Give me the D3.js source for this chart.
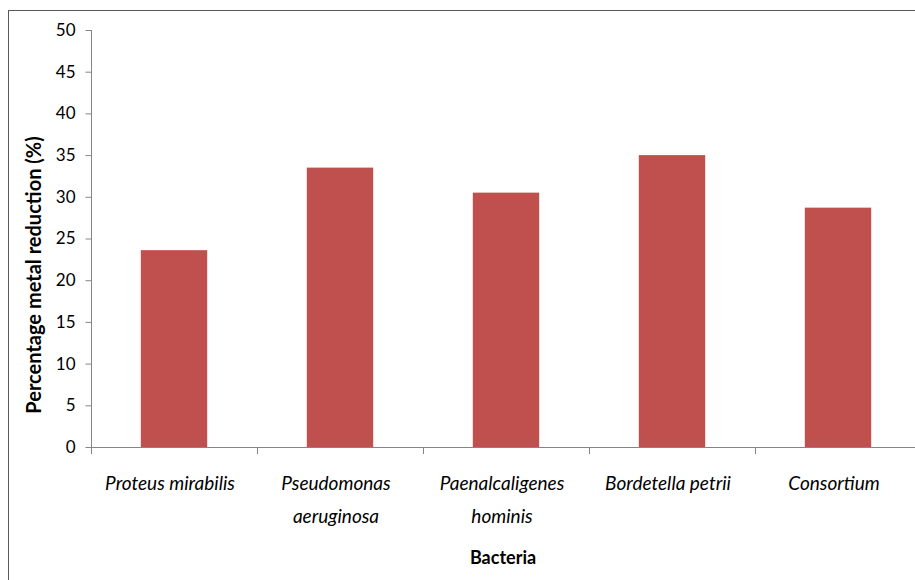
<!DOCTYPE html>
<html>
<head>
<meta charset="utf-8">
<script src="https://cdn.jsdelivr.net/npm/d3@7"></script>
<style>
  html, body { margin: 0; padding: 0; background: #fff; }
  svg { display: block; }
  text { font-family: Lato, "Open Sans", sans-serif; fill: #000; }
</style>
</head>
<body>
<svg id="chart" width="915" height="580"></svg>
<script>
// Metal reduction by bacterial isolate
const categories = [
  ["Proteus mirabilis"],
  ["Pseudomonas", "aeruginosa"],
  ["Paenalcaligenes", "hominis"],
  ["Bordetella petrii"],
  ["Consortium"]
];
const values = [23.6, 33.5, 30.5, 35.0, 28.7];
const yTicks = [0, 5, 10, 15, 20, 25, 30, 35, 40, 45, 50];

const svg = d3.select("#chart");
const plotLeft = 91, plotRight = 921, plotTop = 30, plotBottom = 447;

// outer frame
svg.append("rect")
  .attr("x", 8.5).attr("y", 10.5)
  .attr("width", 930).attr("height", 600)
  .attr("fill", "none").attr("stroke", "#595959").attr("stroke-width", 1);

const keys = categories.map((c, i) => i);
const x = d3.scaleBand().domain(keys).range([plotLeft, plotRight])
  .paddingInner(0.6).paddingOuter(0.3);
const step = x.step();
const y = d3.scaleLinear().domain([0, 50]).range([plotBottom, plotTop]);

// bars
svg.append("g").selectAll("rect")
  .data(values)
  .join("rect")
  .attr("x", (d, i) => x(i))
  .attr("y", d => y(d))
  .attr("width", x.bandwidth())
  .attr("height", d => y(0) - y(d))
  .attr("fill", "#c0504d");

// y axis
const yAxis = d3.axisLeft(y).tickValues(yTicks).tickSize(6).tickPadding(10);
const gy = svg.append("g").attr("transform", `translate(${plotLeft + 0.5},0)`).call(yAxis);
gy.select(".domain").attr("stroke", "#868686").attr("d", `M0,${plotTop}V${plotBottom}`);
gy.selectAll(".tick line").attr("stroke", "#868686");
gy.selectAll(".tick text").attr("font-size", 17).attr("fill", "#000")
  .style("font-family", "Lato, sans-serif");

// x axis line with boundary ticks
const bounds = d3.range(categories.length + 1).map(i => plotLeft + i * step);
const gx = svg.append("g");
gx.append("line")
  .attr("x1", plotLeft).attr("x2", plotRight)
  .attr("y1", plotBottom + 0.5).attr("y2", plotBottom + 0.5)
  .attr("stroke", "#868686");
gx.selectAll("line.b").data(bounds).join("line")
  .attr("class", "b")
  .attr("x1", d => Math.round(d) + 0.5).attr("x2", d => Math.round(d) + 0.5)
  .attr("y1", plotBottom).attr("y2", plotBottom + 7)
  .attr("stroke", "#868686");

// category labels
const lab = svg.append("g").selectAll("text")
  .data(categories)
  .join("text")
  .attr("x", (d, i) => x(i) + x.bandwidth() / 2 - 4)
  .attr("y", 490)
  .attr("text-anchor", "middle")
  .attr("font-size", 19)
  .attr("font-style", "italic");
lab.selectAll("tspan")
  .data(d => d)
  .join("tspan")
  .attr("x", function() { return this.parentNode.getAttribute("x"); })
  .attr("dy", (d, j) => j === 0 ? 0 : 33)
  .text(d => d);

// axis titles
svg.append("text")
  .attr("x", 503).attr("y", 564)
  .attr("text-anchor", "middle")
  .attr("font-size", 18).attr("font-weight", "bold")
  .text("Bacteria");

svg.append("text")
  .attr("transform", "translate(41,275) rotate(-90)")
  .attr("text-anchor", "middle")
  .attr("font-size", 20).attr("font-weight", "bold")
  .text("Percentage metal reduction (%)");
</script>
</body>
</html>
